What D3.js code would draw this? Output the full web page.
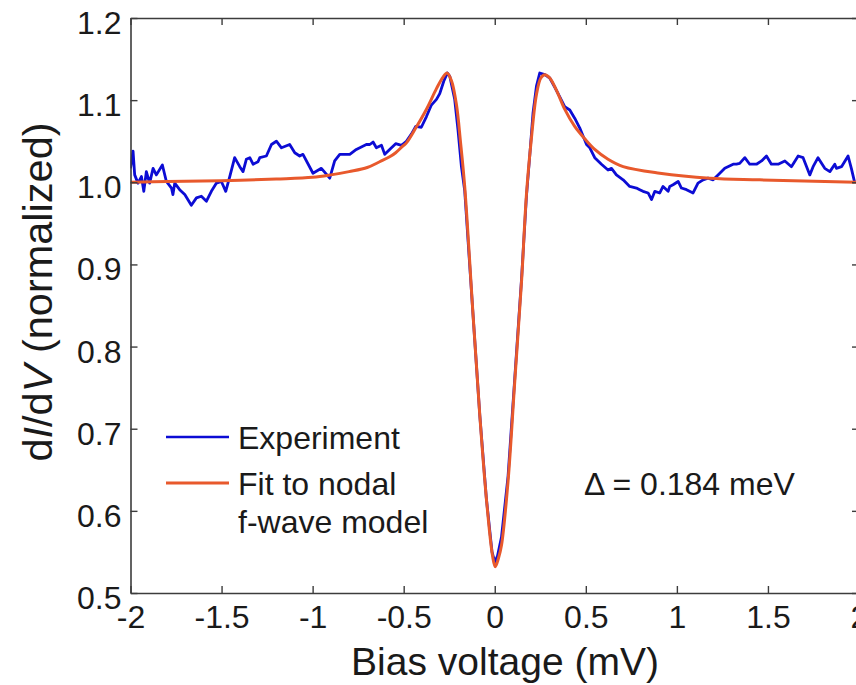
<!DOCTYPE html>
<html>
<head>
<meta charset="utf-8">
<script src="https://cdn.jsdelivr.net/npm/d3@7"></script>
<style>
  html, body { margin: 0; padding: 0; background: #fff; }
  svg { display: block; font-family: "Liberation Sans", Arial, Helvetica, sans-serif; }
</style>
</head>
<body>
<svg id="chart" width="856" height="685"></svg>
<script>
// Tunneling spectrum: measured dI/dV and the nodal f-wave fit
const expBias = [-2.000,-1.986,-1.977,-1.959,-1.940,-1.927,-1.913,-1.895,-1.876,-1.858,-1.825,-1.803,-1.775,-1.767,-1.757,-1.730,-1.702,-1.666,-1.638,-1.611,-1.583,-1.556,-1.528,-1.501,-1.477,-1.455,-1.428,-1.400,-1.382,-1.364,-1.345,-1.327,-1.300,-1.290,-1.254,-1.226,-1.199,-1.171,-1.126,-1.098,-1.071,-1.053,-0.998,-0.952,-0.906,-0.879,-0.851,-0.796,-0.760,-0.705,-0.686,-0.668,-0.650,-0.622,-0.604,-0.577,-0.544,-0.512,-0.485,-0.457,-0.434,-0.403,-0.375,-0.348,-0.320,-0.302,-0.280,-0.260,-0.247,-0.220,-0.202,-0.183,-0.165,-0.119,-0.082,-0.046,-0.015,0.000,0.015,0.037,0.073,0.110,0.147,0.174,0.192,0.210,0.229,0.247,0.275,0.302,0.329,0.357,0.384,0.412,0.439,0.467,0.504,0.522,0.549,0.586,0.622,0.641,0.668,0.705,0.741,0.778,0.796,0.814,0.842,0.861,0.879,0.906,0.924,0.952,0.961,0.979,1.007,1.025,1.053,1.089,1.116,1.144,1.171,1.199,1.226,1.263,1.309,1.327,1.345,1.373,1.400,1.418,1.437,1.465,1.492,1.519,1.538,1.556,1.593,1.629,1.666,1.693,1.730,1.748,1.775,1.812,1.840,1.867,1.876,1.904,1.940,1.958,1.977];
const expDIdV = [1.017,1.038,1.009,0.999,1.007,0.989,1.013,0.999,1.017,1.009,1.021,1.001,0.993,0.985,0.999,0.991,0.985,0.972,0.981,0.983,0.977,0.989,0.999,1.001,0.989,1.007,1.030,1.019,1.013,1.028,1.030,1.022,1.025,1.030,1.032,1.046,1.050,1.042,1.046,1.036,1.032,1.034,1.011,1.017,1.005,1.026,1.034,1.034,1.040,1.046,1.046,1.049,1.042,1.045,1.034,1.040,1.047,1.045,1.050,1.059,1.068,1.067,1.080,1.094,1.101,1.108,1.123,1.133,1.129,1.101,1.064,1.019,0.990,0.838,0.716,0.615,0.550,0.538,0.545,0.568,0.642,0.762,0.882,0.983,1.032,1.084,1.117,1.133,1.131,1.127,1.116,1.104,1.092,1.088,1.078,1.066,1.046,1.042,1.030,1.022,1.015,1.017,1.009,1.003,0.995,0.993,0.991,0.989,0.987,0.979,0.989,0.987,0.995,0.989,0.995,0.997,1.001,0.993,0.991,0.987,0.999,1.003,1.005,1.003,1.009,1.017,1.022,1.022,1.023,1.030,1.022,1.022,1.022,1.026,1.032,1.022,1.022,1.022,1.026,1.019,1.032,1.030,1.009,1.019,1.030,1.017,1.013,1.022,1.017,1.019,1.032,1.017,0.999];

const fitBias = [-2.000,-1.800,-1.500,-1.200,-1.000,-0.900,-0.800,-0.700,-0.632,-0.577,-0.544,-0.505,-0.485,-0.434,-0.375,-0.320,-0.284,-0.262,-0.238,-0.210,-0.188,-0.165,-0.119,-0.082,-0.046,-0.012,0.003,0.020,0.037,0.073,0.110,0.147,0.174,0.201,0.229,0.253,0.275,0.302,0.339,0.384,0.439,0.494,0.549,0.622,0.705,0.906,1.181,1.455,2.000];
const fitDIdV = [1.000,1.001,1.002,1.004,1.006,1.009,1.013,1.018,1.025,1.031,1.036,1.044,1.048,1.066,1.089,1.114,1.128,1.133,1.124,1.094,1.049,0.995,0.838,0.716,0.615,0.545,0.532,0.542,0.558,0.636,0.758,0.879,0.985,1.053,1.107,1.127,1.131,1.127,1.112,1.089,1.068,1.053,1.040,1.028,1.019,1.011,1.005,1.003,1.000];

const xTicks = [-2, -1.5, -1, -0.5, 0, 0.5, 1, 1.5, 2];
const xTickLabels = ["-2", "-1.5", "-1", "-0.5", "0", "0.5", "1", "1.5", "2"];
const yTicks = [0.5, 0.6, 0.7, 0.8, 0.9, 1.0, 1.1, 1.2];
const yTickLabels = ["0.5", "0.6", "0.7", "0.8", "0.9", "1.0", "1.1", "1.2"];

const seriesNames = ["Experiment", "Fit to nodal", "f-wave model"];
const gapLabel = "\u0394 = 0.184 meV";

const colExp = "#0c0cd4";
const colFit = "#e8592c";
const axisCol = "#3c3c3c";

const svg = d3.select("#chart");
const L = 130.5, R = 859, T = 18, B = 593;

const x = d3.scaleLinear().domain([-2, 2]).range([L, R]);
const y = d3.scaleLinear().domain([0.5, 1.2]).range([B, T]);

// clip to the axes box
svg.append("defs").append("clipPath").attr("id", "box")
  .append("rect").attr("x", L).attr("y", T).attr("width", R - L).attr("height", B - T);

const expData = expBias.map((b, i) => [b, expDIdV[i]]);
const fitData = fitBias.map((b, i) => [b, fitDIdV[i]]);

const lineExp = d3.line().x(d => x(d[0])).y(d => y(d[1])).curve(d3.curveLinear);
const lineFit = d3.line().x(d => x(d[0])).y(d => y(d[1])).curve(d3.curveCatmullRom.alpha(0.5));

const curves = svg.append("g").attr("clip-path", "url(#box)");
curves.append("path").datum(expData).attr("d", lineExp)
  .attr("fill", "none").attr("stroke", colExp).attr("stroke-width", 2.8)
  .attr("stroke-linejoin", "round");
curves.append("path").datum(fitData).attr("d", lineFit)
  .attr("fill", "none").attr("stroke", colFit).attr("stroke-width", 3)
  .attr("stroke-linejoin", "round");

// axes: inward ticks on all four sides
const tick = 7;
function styleAxis(g) {
  g.select(".domain").attr("stroke", axisCol).attr("stroke-width", 1.6);
  g.selectAll(".tick line").attr("stroke", axisCol).attr("stroke-width", 1.4);
  g.selectAll(".tick text").attr("fill", "#1a1a1a").attr("font-size", 32)
    .attr("font-family", "'Liberation Sans', Arial, sans-serif");
}

const gx = svg.append("g").attr("transform", `translate(0,${B})`)
  .call(d3.axisBottom(x).tickValues(xTicks).tickSize(-tick).tickSizeOuter(0)
    .tickPadding(0).tickFormat((d, i) => xTickLabels[i]));
styleAxis(gx);
gx.selectAll(".tick text").attr("dy", null).attr("y", 35);

const gy = svg.append("g").attr("transform", `translate(${L},0)`)
  .call(d3.axisLeft(y).tickValues(yTicks).tickSize(-tick).tickSizeOuter(0)
    .tickPadding(0).tickFormat((d, i) => yTickLabels[i]));
styleAxis(gy);
gy.selectAll(".tick text").attr("x", -9).attr("dy", null).attr("y", 15.5);

const gt = svg.append("g").attr("transform", `translate(0,${T})`)
  .call(d3.axisTop(x).tickValues(xTicks).tickSize(-tick).tickSizeOuter(0).tickFormat(""));
styleAxis(gt);

const gr = svg.append("g").attr("transform", `translate(${R},0)`)
  .call(d3.axisRight(y).tickValues(yTicks).tickSize(-tick).tickSizeOuter(0).tickFormat(""));
styleAxis(gr);

// axis titles
svg.append("text").attr("x", 505).attr("y", 675).attr("text-anchor", "middle")
  .attr("font-size", 39).attr("fill", "#1a1a1a").text("Bias voltage (mV)");

const yt = svg.append("text").attr("transform", "translate(52,292) rotate(-90)")
  .attr("text-anchor", "middle").attr("font-size", 41.5).attr("fill", "#1a1a1a");
yt.append("tspan").text("d");
yt.append("tspan").attr("font-style", "italic").text("I");
yt.append("tspan").text("/d");
yt.append("tspan").attr("font-style", "italic").text("V");
yt.append("tspan").text(" (normalized)");

// legend
const lg = svg.append("g");
lg.append("line").attr("x1", 166).attr("x2", 229).attr("y1", 437).attr("y2", 437)
  .attr("stroke", colExp).attr("stroke-width", 2.6);
lg.append("line").attr("x1", 166).attr("x2", 229).attr("y1", 483).attr("y2", 483)
  .attr("stroke", colFit).attr("stroke-width", 3);
lg.append("text").attr("x", 238).attr("y", 449).attr("font-size", 32).attr("fill", "#1a1a1a").text(seriesNames[0]);
lg.append("text").attr("x", 238).attr("y", 495).attr("font-size", 32).attr("fill", "#1a1a1a").text(seriesNames[1]);
lg.append("text").attr("x", 238).attr("y", 533).attr("font-size", 32).attr("fill", "#1a1a1a").text(seriesNames[2]);

svg.append("text").attr("x", 584).attr("y", 495).attr("font-size", 32).attr("fill", "#1a1a1a").text(gapLabel);
</script>
</body>
</html>
